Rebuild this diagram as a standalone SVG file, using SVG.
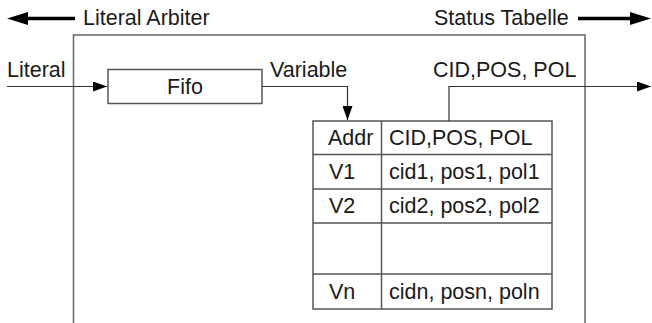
<svg xmlns="http://www.w3.org/2000/svg" width="652" height="323" viewBox="0 0 652 323">
<style>
text{font-family:"Liberation Sans",Arial,sans-serif;font-size:21.5px;fill:#1a1a1a}
.frame{fill:none;stroke:#666;stroke-width:1.5}
.cell{fill:none;stroke:#555;stroke-width:1.5}
.wire{fill:none;stroke:#333;stroke-width:1.2}
.thick{fill:none;stroke:#000;stroke-width:3.5}
</style>
<defs>
<marker id="ah" markerWidth="14" markerHeight="10" refX="14" refY="5" orient="auto" markerUnits="userSpaceOnUse">
<path d="M0,0 L14,5 L0,10 Z" fill="#000"/>
</marker>
</defs>
<g id="legend-left">
<line class="thick" x1="75" y1="18.5" x2="26" y2="18.5"/>
<polygon points="7,18.5 28,12 28,25" fill="#000"/>
<text x="83" y="25">Literal Arbiter</text>
</g>
<g id="legend-right">
<line class="thick" x1="578" y1="18.5" x2="632" y2="18.5"/>
<polygon points="651,18.5 630,12 630,25" fill="#000"/>
<text x="434" y="25">Status Tabelle</text>
</g>
<g id="arbiter">
<path class="frame" d="M73.5,323 V35 H585 V323"/>
</g>
<g id="fifo">
<rect x="108" y="69.5" width="154" height="34" fill="#fff" stroke="#555" stroke-width="1.5"/>
<text x="185" y="94" text-anchor="middle">Fifo</text>
</g>
<g id="table">
<rect class="cell" x="313" y="121" width="239" height="188"/>
<line class="cell" x1="381.5" y1="121" x2="381.5" y2="309"/>
<line class="cell" x1="313" y1="154.5" x2="552" y2="154.5"/>
<line class="cell" x1="313" y1="189" x2="552" y2="189"/>
<line class="cell" x1="313" y1="223" x2="552" y2="223"/>
<line class="cell" x1="313" y1="274" x2="552" y2="274"/>
<text x="328" y="145">Addr</text>
<text x="389" y="145">CID,POS, POL</text>
<text x="329" y="179">V1</text>
<text x="389" y="179">cid1, pos1, pol1</text>
<text x="329" y="213">V2</text>
<text x="389" y="213">cid2, pos2, pol2</text>
<text x="329" y="299">Vn</text>
<text x="389" y="299">cidn, posn, poln</text>
</g>
<g id="connectors">
<line class="wire" x1="7" y1="86.5" x2="107" y2="86.5" marker-end="url(#ah)"/>
<path class="wire" d="M262,86.5 H347.5 V120" marker-end="url(#ah)"/>
<path class="wire" d="M449,121 V86.5 H651" marker-end="url(#ah)"/>
</g>
<g id="labels">
<text x="7" y="77">Literal</text>
<text x="270" y="77">Variable</text>
<text x="433" y="77">CID,POS, POL</text>
</g>
</svg>
